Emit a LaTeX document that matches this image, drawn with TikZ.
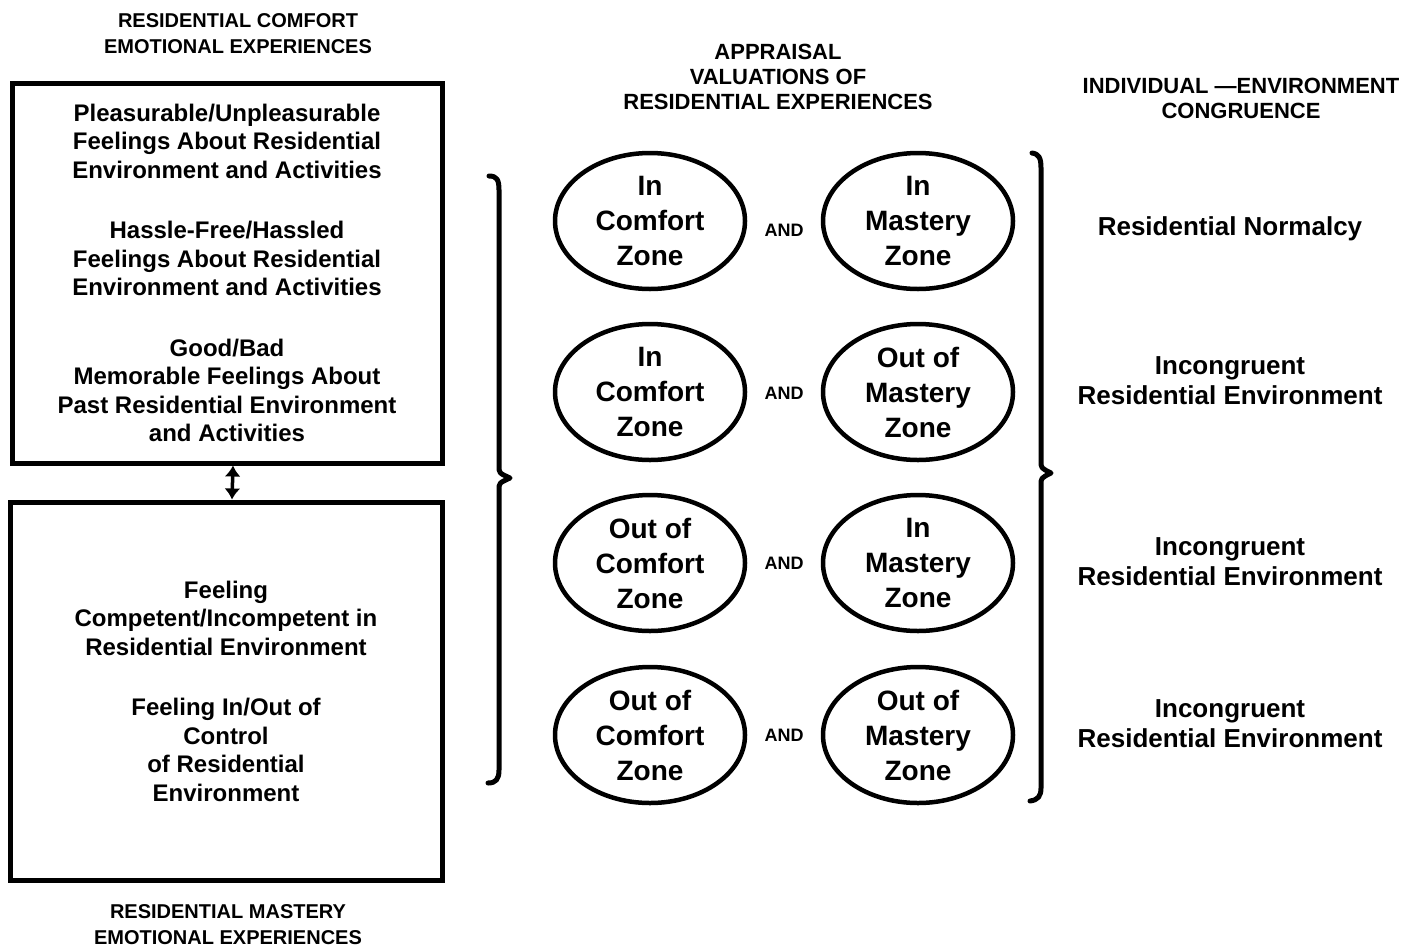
\documentclass[tikz,border=0pt]{standalone}
\usepackage{fontspec}
\setmainfont{Liberation Sans}
\usetikzlibrary{arrows.meta,shapes.geometric}
\begin{document}
\begin{tikzpicture}[x=1pt,y=-1pt,
  every node/.style={font=\bfseries, inner sep=0pt},
  heading/.style={align=center, font=\bfseries\fontsize{20}{26}\selectfont},
  heading2/.style={align=center, font=\bfseries\fontsize{22}{25}\selectfont},
  bigbox/.style={draw, line width=5pt, align=center, font=\bfseries\fontsize{24}{28.5}\selectfont},
  zone/.style={draw, ellipse, line width=4.5pt, minimum width=190pt, minimum height=136pt, align=center, font=\bfseries\fontsize{28}{35}\selectfont},
  andlabel/.style={font=\bfseries\fontsize{18}{20}\selectfont},
  result/.style={align=center, font=\bfseries\fontsize{26}{30}\selectfont},
  bracepath/.style={line width=5pt, line cap=round, line join=round},
  dblarrow/.style={line width=3.5pt, {Latex[length=11pt,width=16pt]}-{Latex[length=11pt,width=16pt]}}
]
\useasboundingbox (0,0) rectangle (1415,951);

% headings
\node[heading] (hcomfort) at (238,34) {RESIDENTIAL COMFORT\\EMOTIONAL EXPERIENCES};
\node[heading] (hmastery) at (228,925) {RESIDENTIAL MASTERY\\EMOTIONAL EXPERIENCES};
\node[heading2] (happraisal) at (778,77) {APPRAISAL\\VALUATIONS OF\\RESIDENTIAL EXPERIENCES};
\node[heading2] (hcongr) at (1241,98) {INDIVIDUAL —ENVIRONMENT\\CONGRUENCE};

% left boxes
\node[bigbox, minimum width=430pt, minimum height=380pt] (comfortbox) at (227,273)
 {Pleasurable/Unpleasurable\\Feelings About Residential\\Environment and Activities\\[32pt]
  Hassle-Free/Hassled\\Feelings About Residential\\Environment and Activities\\[32pt]
  Good/Bad\\Memorable Feelings About\\Past Residential Environment\\and Activities};
\node[bigbox, minimum width=432pt, minimum height=378pt] (masterybox) at (226,691)
 {Feeling\\Competent/Incompetent in\\Residential Environment\\[32pt]
  Feeling In/Out of\\Control\\of Residential\\Environment};
\draw[dblarrow] ([xshift=6pt]comfortbox.south) -- ([xshift=6pt]masterybox.north);

% zone ellipses
\node[zone] (c1) at (650,221) {In\\Comfort\\Zone};
\node[zone] (m1) at (918,221) {In\\Mastery\\Zone};
\node[zone] (c2) at (650,392) {In\\Comfort\\Zone};
\node[zone] (m2) at (918,392) {Out of\\Mastery\\Zone};
\node[zone] (c3) at (650,563) {Out of\\Comfort\\Zone};
\node[zone] (m3) at (918,563) {In\\Mastery\\Zone};
\node[zone] (c4) at (650,735) {Out of\\Comfort\\Zone};
\node[zone] (m4) at (918,735) {Out of\\Mastery\\Zone};

\node[andlabel] (and1) at (784,230) {AND};
\node[andlabel] (and2) at (784,393) {AND};
\node[andlabel] (and3) at (784,563) {AND};
\node[andlabel] (and4) at (784,735) {AND};

% results
\node[result] (r1) at (1230,229) {Residential Normalcy};
\node[result] (r2) at (1230,381) {Incongruent\\Residential Environment};
\node[result] (r3) at (1230,562) {Incongruent\\Residential Environment};
\node[result] (r4) at (1230,724) {Incongruent\\Residential Environment};

% braces
\draw[bracepath] (489,176) .. controls (497,176) and (499,180) .. (499,190)
  -- (499,466) .. controls (499,473) .. (510,478) .. controls (499,483) .. (499,490)
  -- (499,770) .. controls (499,779) and (496,783) .. (488,783);
\draw[bracepath] (1032,153) .. controls (1039,154) and (1041,158) .. (1041,168)
  -- (1041,461) .. controls (1041,468) .. (1051,473) .. controls (1041,478) .. (1041,485)
  -- (1041,788) .. controls (1041,796) and (1038,800) .. (1030,801);
\end{tikzpicture}
\end{document}
